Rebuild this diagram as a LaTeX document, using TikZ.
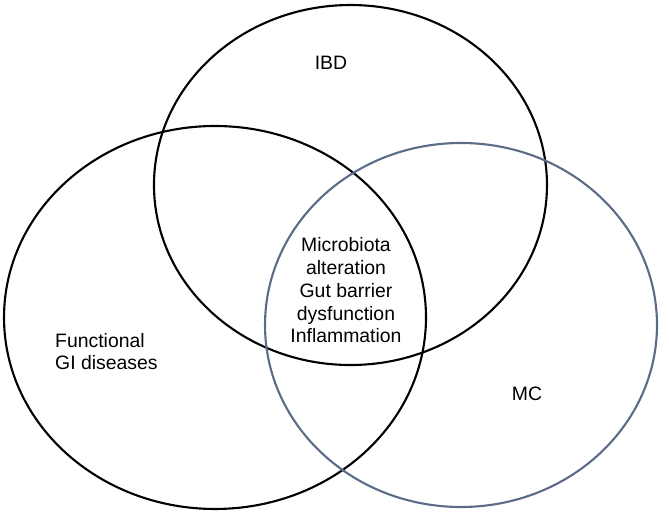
\documentclass[tikz,border=0pt]{standalone}
\usepackage{fontspec}
\setmainfont{Liberation Sans}
\definecolor{mcblue}{RGB}{92,108,136}
\tikzset{
  ring/.style={line width=2pt},
  lbl/.style={font=\fontsize{18.4}{21.6}\selectfont, inner sep=0pt}
}
\begin{document}
\begin{tikzpicture}
  \useasboundingbox (0,0) rectangle (22.3,-17.133);
  % the three sets
  \draw [ring,black] (11.683,-6.167) ellipse (6.55 and 6);
  \draw [ring,black] (7.167,-10.583) ellipse (7.033 and 6.383);
  \draw [ring,mcblue] (15.367,-10.833) ellipse (6.533 and 6.067);
  % labels
  \node [lbl] (ibd) at (11.033,-2.1) {IBD};
  \node [lbl,align=left,anchor=west] (fgi) at (1.833,-11.717) {Functional\\GI diseases};
  \node [lbl] (mc) at (17.567,-13.133) {MC};
  \node [lbl,align=center] (core) at (11.533,-9.683) {Microbiota\\alteration\\Gut barrier\\dysfunction\\Inflammation};
\end{tikzpicture}
\end{document}
